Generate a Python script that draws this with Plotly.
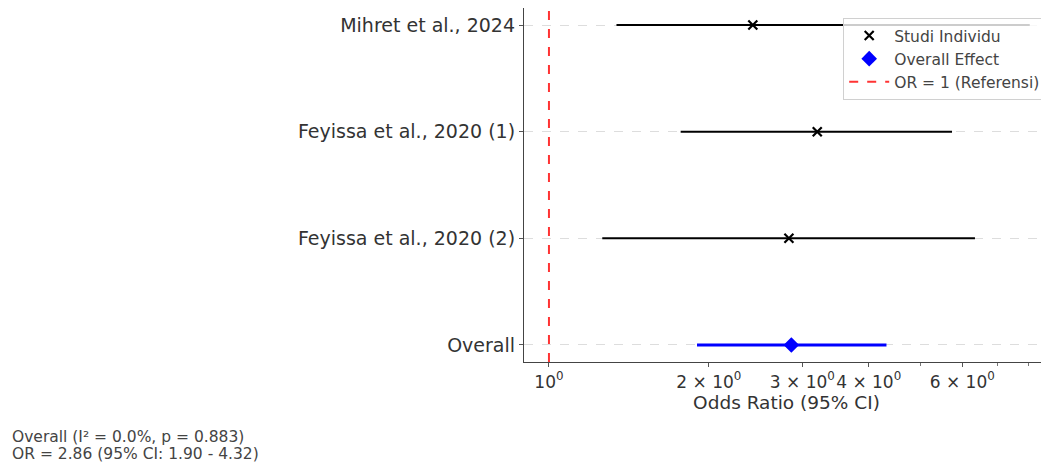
import plotly.graph_objects as go

studies = ["Mihret et al., 2024", "Feyissa et al., 2020 (1)", "Feyissa et al., 2020 (2)"]
study_or = [2.42, 3.20, 2.83]
study_lo = [1.34, 1.77, 1.26]
study_hi = [8.04, 5.74, 6.34]
study_y = [3, 2, 1]

overall_label = "Overall"
overall_or = 2.86
overall_lo = 1.90
overall_hi = 4.32
overall_y = 0

x_tickvals = [1, 2, 3, 4, 6]
x_ticktext = ["10<sup>0</sup>", "2 × 10<sup>0</sup>", "3 × 10<sup>0</sup>", "4 × 10<sup>0</sup>", "6 × 10<sup>0</sup>"]
x_minor = [5, 7, 8]

summary_lines = ["Overall (I² = 0.0%, p = 0.883)", "OR = 2.86 (95% CI: 1.90 - 4.32)"]

font = "DejaVu Sans"
txt = "#333333"

fig = go.Figure()

for lo, hi, y in zip(study_lo, study_hi, study_y):
    fig.add_trace(go.Scatter(x=[lo, hi], y=[y, y], mode="lines",
                             line=dict(color="black", width=2), showlegend=False, hoverinfo="skip"))

fig.add_trace(go.Scatter(x=[overall_lo, overall_hi], y=[overall_y, overall_y], mode="lines",
                         line=dict(color="blue", width=3), showlegend=False, hoverinfo="skip"))

fig.add_trace(go.Scatter(x=study_or, y=study_y, mode="markers", name="Studi Individu",
                         marker=dict(symbol="x-thin", size=9, color="black",
                                     line=dict(width=2.2, color="black"))))
fig.add_trace(go.Scatter(x=[overall_or], y=[overall_y], mode="markers", name="Overall Effect",
                         marker=dict(symbol="diamond", size=12, color="blue")))
fig.add_trace(go.Scatter(x=[1, 1], y=[-0.16, 3.16], mode="lines", name="OR = 1 (Referensi)",
                         line=dict(color="#ff3333", width=2, dash="dash")))

fig.update_layout(
    width=1041, height=458,
    margin=dict(l=516, r=0, t=0, b=104),
    paper_bgcolor="white", plot_bgcolor="white",
    font=dict(family=font, color=txt, size=15),
    showlegend=True,
    legend=dict(x=0.608, y=0.972, xanchor="left", yanchor="top",
                bgcolor="rgba(255,255,255,0.8)", bordercolor="#d0d0d0", borderwidth=1,
                font=dict(family=font, size=15.5, color="#444444"), tracegroupgap=0,
                itemwidth=40),
)

fig.update_xaxes(
    type="log", range=[-0.047, 0.9415],
    tickvals=x_tickvals, ticktext=x_ticktext, tickangle=0,
    ticks="outside", ticklen=4, tickcolor="#555555",
    minor=dict(tickvals=x_minor, ticks="outside", ticklen=3, tickcolor="#777777", showgrid=False),
    showgrid=False, zeroline=False,
    showline=True, linecolor="#444444", linewidth=1.3,
    tickfont=dict(size=17, color=txt),
    title=dict(text="Odds Ratio (95% CI)", font=dict(size=18.5, color=txt), standoff=4),
)

fig.update_yaxes(
    range=[-0.16, 3.16],
    tickvals=study_y + [overall_y], ticktext=studies + [overall_label],
    ticks="outside", ticklen=4, tickcolor="#555555",
    showgrid=True, gridcolor="#dddddd", griddash="dash", gridwidth=1,
    zeroline=False,
    showline=True, linecolor="#444444", linewidth=1.3,
    tickfont=dict(size=19, color=txt),
)

for line, ypos in zip(summary_lines, [-0.212, -0.260]):
    fig.add_annotation(xref="paper", yref="paper", x=-0.979, y=ypos,
                       xanchor="left", yanchor="middle", showarrow=False, align="left",
                       text=line, font=dict(family=font, size=15.5, color="#444444"))

fig.write_html("out.html")
